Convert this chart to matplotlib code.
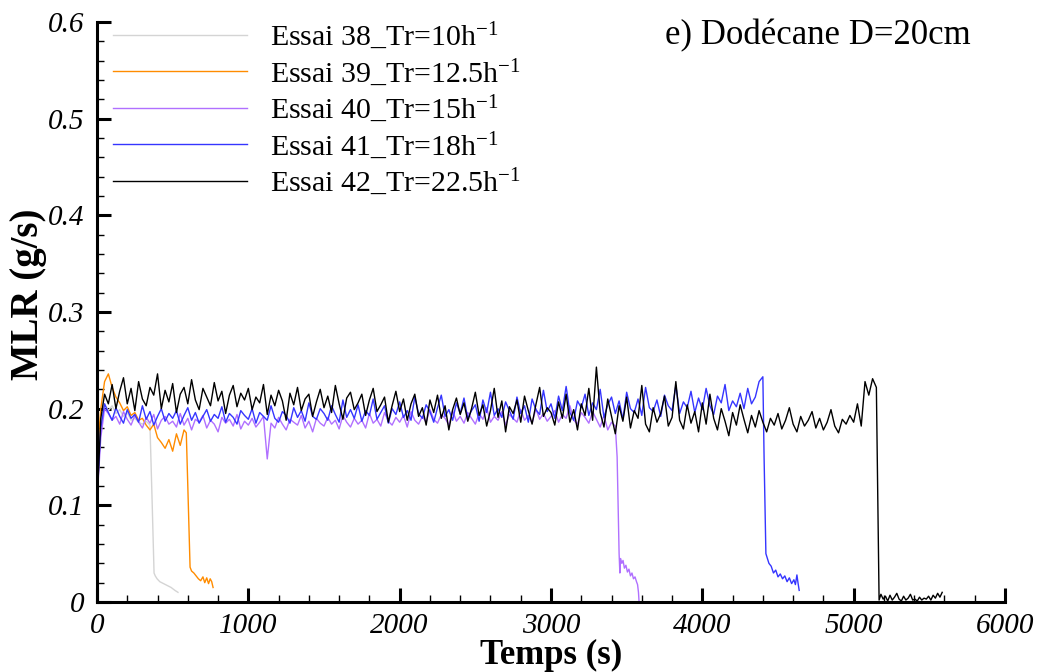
import numpy as np
import matplotlib
matplotlib.use("Agg")
import matplotlib.pyplot as plt
from matplotlib.ticker import MultipleLocator, FuncFormatter

plt.rcParams['font.family'] = ['Liberation Serif', 'DejaVu Serif']
plt.rcParams['mathtext.fontset'] = 'custom'
plt.rcParams['mathtext.rm'] = 'Liberation Serif'
plt.rcParams['mathtext.it'] = 'Liberation Serif:italic'

# ---------------- data ----------------
labels = ['Essai 38_Tr=10h$^{-1}$', 'Essai 39_Tr=12.5h$^{-1}$', 'Essai 40_Tr=15h$^{-1}$',
          'Essai 41_Tr=18h$^{-1}$', 'Essai 42_Tr=22.5h$^{-1}$']
colors = ['#d4d4d4', '#ff8c00', '#b070ff', '#3535ff', '#000000']

# Essai 38: steady part sampled every 25 s from 0 to 350 s, then the extinction tail
gray_end = 350
gray_vals = [.100, .185, .205, .198, .203, .195, .199, .192, .196, .188, .190, .186, .184, .187, .183]
gray_tail_t = [365, 377, 385, 397, 415, 440, 465, 490, 515, 535]
gray_tail_v = [.100, .030, .027, .024, .021, .019, .017, .015, .012, .010]

# Essai 39: 0..575 s every 25 s
orange_end = 575
orange_vals = [.150, .200, .228, .236, .222, .212, .206, .198, .202, .193, .196, .188,
               .190, .183, .178, .184, .170, .165, .159, .168, .156, .174, .162, .178]
orange_tail_t = [590, 600, 615, 625, 640, 655, 670, 685, 700, 712, 725, 737, 748, 758, 767]
orange_tail_v = [.175, .120, .036, .032, .030, .027, .024, .022, .026, .020, .025, .019, .024, .021, .015]

# Essai 40: 0..3425 s every 25 s
purple_end = 3425
purple_vals = [
    .105, .170, .200, .195, .188, .192, .184, .197, .189, .183,
    .193, .186, .180, .191, .185, .194, .179, .188, .192, .184,
    .187, .181, .195, .183, .190, .178, .189, .186, .193, .180,
    .188, .184, .176, .191, .185, .189, .182, .194, .179, .187,
    .183, .190, .181, .186, .192, .148, .185, .180, .191, .184,
    .178, .189, .186, .183, .193, .180, .187, .176, .190, .185,
    .182, .191, .184, .188, .179, .193, .186, .181, .190, .184,
    .188, .180, .195, .185, .189, .182, .196, .187, .183, .191,
    .186, .193, .181, .197, .188, .184, .192, .186, .199, .189,
    .185, .194, .190, .183, .198, .187, .192, .185, .196, .190,
    .184, .195, .189, .201, .186, .192, .188, .197, .183, .194,
    .190, .186, .199, .188, .193, .185, .200, .189, .195, .187,
    .192, .198, .186, .194, .190, .203, .188, .184, .196, .191,
    .185, .197, .189, .181, .193, .178, .186, .182]
purple_tail_t = [3437, 3450, 3455, 3460, 3468, 3476, 3485, 3495, 3505, 3515, 3525,
                 3535, 3545, 3555, 3565, 3572, 3578, 3582]
purple_tail_v = [.150, .050, .030, .045, .040, .043, .035, .038, .031, .034, .027,
                 .030, .024, .026, .021, .018, .010, .000]

# Essai 41: 0..4400 s every 25 s
blue_end = 4400
blue_vals = [
    .110, .180, .205, .196, .188, .201, .192, .185, .199, .190,
    .194, .186, .203, .189, .197, .183, .192, .200, .187, .195,
    .190, .198, .184, .193, .201, .188, .196, .185, .192, .199,
    .187, .194, .190, .202, .186, .195, .191, .184, .198, .193,
    .189, .200, .185, .196, .192, .188, .203, .190, .186, .197,
    .193, .185, .201, .191, .198, .187, .206, .192, .189, .200,
    .195, .188, .203, .194, .186, .209, .191, .199, .190, .204,
    .187, .198, .193, .210, .189, .196, .203, .185, .200, .194,
    .207, .191, .198, .188, .212, .195, .190, .204, .197, .186,
    .201, .214, .192, .199, .188, .206, .195, .211, .190, .198,
    .204, .187, .209, .196, .217, .193, .200, .191, .207, .198,
    .189, .212, .195, .203, .186, .210, .199, .194, .219, .197,
    .205, .190, .213, .198, .223, .196, .188, .208, .201, .215,
    .193, .206, .199, .220, .191, .204, .212, .195, .208, .189,
    .217, .200, .196, .210, .193, .222, .201, .197, .209, .192,
    .214, .203, .198, .224, .195, .207, .201, .218, .196, .211,
    .199, .221, .203, .194, .213, .206, .225, .198, .208, .202,
    .216, .200, .221, .205, .212, .228, .233]
blue_tail_t = [4408, 4420, 4430, 4440, 4455, 4470, 4485, 4500, 4515, 4530, 4545,
               4560, 4575, 4590, 4605, 4615, 4625, 4632, 4640]
blue_tail_v = [.150, .050, .045, .040, .037, .030, .033, .026, .029, .024, .027,
               .021, .025, .019, .023, .018, .028, .020, .012]

# Essai 42: 0..5150 s every 25 s
black_end = 5150
black_vals = [
    .100, .190, .215, .205, .225, .200, .218, .232, .205, .221,
    .198, .228, .210, .203, .222, .214, .236, .200, .219, .207,
    .226, .196, .215, .222, .205, .230, .209, .199, .221, .212,
    .203, .227, .208, .218, .195, .214, .224, .202, .216, .209,
    .221, .199, .212, .206, .225, .194, .214, .203, .219, .208,
    .188, .216, .204, .222, .198, .210, .215, .192, .207, .220,
    .201, .213, .196, .224, .205, .189, .211, .217, .199, .206,
    .215, .193, .209, .221, .197, .204, .212, .186, .203, .218,
    .197, .210, .188, .205, .215, .192, .201, .183, .209, .196,
    .214, .190, .203, .178, .199, .211, .194, .206, .187, .200,
    .217, .193, .204, .182, .198, .221, .191, .208, .176, .202,
    .195, .209, .186, .213, .198, .184, .204, .222, .192, .201,
    .196, .183, .207, .190, .215, .186, .199, .178, .205, .193,
    .221, .188, .243, .196, .181, .210, .192, .174, .203, .187,
    .212, .180, .198, .190, .224, .184, .176, .201, .186, .195,
    .213, .182, .191, .228, .188, .179, .204, .185, .197, .176,
    .206, .184, .215, .190, .178, .200, .187, .172, .196, .183,
    .204, .189, .175, .193, .181, .198, .186, .176, .190, .183,
    .195, .179, .188, .201, .184, .176, .192, .182, .188, .197,
    .180, .190, .178, .186, .199, .182, .175, .189, .184, .193,
    .186, .205, .182, .228, .214, .231, .222]
black_tail_t = [5160, 5168, 5180, 5195, 5210, 5225, 5240, 5255, 5270, 5285, 5300, 5315,
                5330, 5345, 5360, 5375, 5390, 5405, 5420, 5435, 5450, 5465, 5480,
                5495, 5510, 5525, 5540, 5555, 5570, 5585]
black_tail_v = [.100, .002, .008, .003, .006, .001, .007, .002, .005, .009, .003, .001,
                .006, .002, .004, .008, .002, .003, .001, .005, .002, .004, .003,
                .006, .002, .007, .004, .009, .005, .010]

series = [
    (gray_end, gray_vals, gray_tail_t, gray_tail_v),
    (orange_end, orange_vals, orange_tail_t, orange_tail_v),
    (purple_end, purple_vals, purple_tail_t, purple_tail_v),
    (blue_end, blue_vals, blue_tail_t, blue_tail_v),
    (black_end, black_vals, black_tail_t, black_tail_v),
]

# ---------------- figure ----------------
fig = plt.figure(figsize=(10.41, 6.72), dpi=100)
ax = fig.add_axes([97 / 1041, 1 - 602 / 672, (1005 - 97) / 1041, (602 - 22) / 672])

for (end, vals, tt, tv), col, lab in zip(series, colors, labels):
    t = np.concatenate([np.linspace(0, end, len(vals)), tt])
    v = np.concatenate([vals, tv])
    ax.plot(t, v, color=col, lw=1.0, label=lab)

ax.set_xlim(0, 6000)
ax.set_ylim(0, 0.6)
ax.xaxis.set_major_locator(MultipleLocator(1000))
ax.xaxis.set_minor_locator(MultipleLocator(200))
ax.yaxis.set_major_locator(MultipleLocator(0.1))
ax.yaxis.set_minor_locator(MultipleLocator(0.02))
ax.yaxis.set_major_formatter(FuncFormatter(lambda v, p: '0' if abs(v) < 1e-9 else f'{v:.1f}'))
ax.xaxis.set_major_formatter(FuncFormatter(lambda v, p: f'{int(round(v))}'))

for s in ['top', 'right']:
    ax.spines[s].set_visible(False)
for s in ['left', 'bottom']:
    ax.spines[s].set_linewidth(2.2)

ax.tick_params(which='major', direction='in', length=10, width=2.2)
ax.tick_params(axis='y', which='major', pad=9)
ax.tick_params(axis='x', which='major', pad=8)
ax.tick_params(which='minor', direction='in', length=5, width=1.0)
ax.tick_params(top=False, right=False)
for lab in ax.get_yticklabels():
    lab.set_fontstyle('italic')
    lab.set_fontsize(21)
for lab in ax.get_xticklabels():
    lab.set_fontstyle('italic')
    lab.set_fontsize(21)

ax.set_xlabel('Temps (s)', fontsize=25, fontweight='bold', labelpad=0)
ax.set_ylabel('MLR (g/s)', fontsize=28, fontweight='bold', va='center')
ax.yaxis.set_label_coords((29 - 97) / 908, (602 - 294) / 580)

ax.text(0.625, 1.005, 'e) Dodécane D=20cm', transform=ax.transAxes, fontsize=25,
        ha='left', va='top')

leg = ax.legend(loc='upper left', bbox_to_anchor=(0.011, 1.013), frameon=False,
                fontsize=21.5, handlelength=4.5, handletextpad=0.75,
                labelspacing=0.19, borderaxespad=0.2, borderpad=0.0)

fig.savefig('out.png', dpi=100)
